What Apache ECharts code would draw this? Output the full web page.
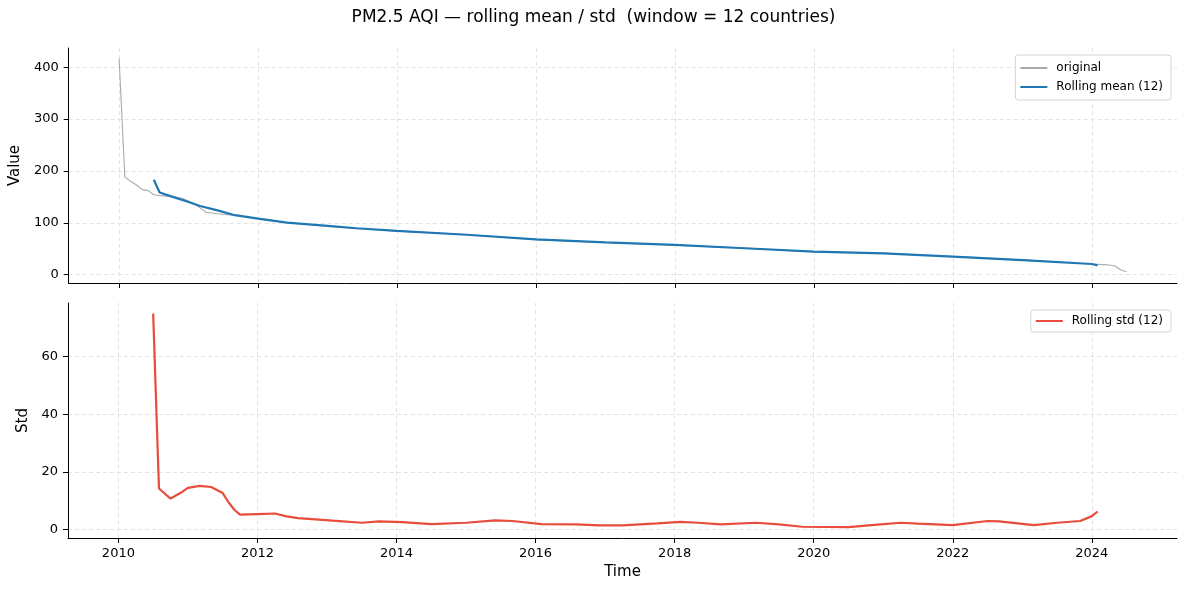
<!DOCTYPE html>
<html>
<head>
<meta charset="utf-8">
<script src="https://cdn.jsdelivr.net/npm/echarts@6/dist/echarts.min.js"></script>
<style>
  html, body { margin: 0; padding: 0; background: #fff; }
  #chart { width: 1187px; height: 591px; }
</style>
</head>
<body>
<div id="chart"></div>
<script>
// original series (month -> PM2.5 AQI)
const origMonths = [
  '2010-01', '2010-02', '2010-03', '2010-04', '2010-05', '2010-06', '2010-07',
  '2010-08', '2010-10', '2010-12', '2011-02', '2011-04', '2011-06', '2011-09',
  '2012-01', '2012-06', '2013-01', '2013-06', '2014-01', '2015-01', '2016-01',
  '2017-01', '2018-01', '2019-01', '2020-01', '2021-01', '2022-01', '2023-01',
  '2024-01', '2024-03', '2024-04', '2024-05', '2024-06', '2024-07'
]
const origValues = [
  417, 188, 180, 173, 164, 162, 154,
  152.5, 151, 147, 137, 120.5, 117.5, 114,
  108.5, 100, 93.5, 89, 84, 77.5, 67.5,
  62, 57, 51.5, 44, 41.5, 35, 28.5,
  20.5, 19.5, 18.7, 16.8, 9, 5.8
]

// rolling mean (12)
const meanMonths = [
  '2010-07', '2010-08', '2010-10', '2011-01', '2011-03', '2011-06', '2011-09',
  '2012-01', '2012-06', '2013-01', '2013-06', '2014-01', '2015-01', '2016-01',
  '2017-01', '2018-01', '2019-01', '2020-01', '2021-01', '2022-01', '2023-01',
  '2024-01', '2024-02'
]
const meanValues = [
  183, 158.5, 151, 140, 132.5, 124, 114.7,
  108, 100.5, 94, 89.5, 84.5, 77, 68,
  62.5, 57.4, 51, 44.5, 41, 34.8, 28,
  20.6, 18
]

// rolling std (12)
const stdMonths = [
  '2010-07', '2010-08', '2010-10', '2010-12', '2011-01', '2011-03', '2011-05',
  '2011-07', '2011-08', '2011-09', '2011-10', '2012-01', '2012-04', '2012-06',
  '2012-08', '2013-02', '2013-07', '2013-10', '2014-02', '2014-07', '2015-01',
  '2015-06', '2015-09', '2016-02', '2016-08', '2016-12', '2017-04', '2017-10',
  '2018-02', '2018-05', '2018-09', '2019-03', '2019-07', '2019-11', '2020-07',
  '2020-11', '2021-04', '2021-07', '2022-01', '2022-07', '2022-09', '2023-03',
  '2023-07', '2023-11', '2024-01', '2024-02'
]
const stdValues = [
  74.9, 14.2, 10.7, 13.0, 14.4, 15.1, 14.7,
  12.6, 9.4, 6.8, 5.1, 5.3, 5.5, 4.5,
  3.9, 3.0, 2.3, 2.8, 2.5, 1.8, 2.3,
  3.1, 2.9, 1.8, 1.7, 1.4, 1.4, 2.1,
  2.6, 2.3, 1.7, 2.3, 1.7, 0.9, 0.8,
  1.5, 2.3, 2.0, 1.5, 2.9, 2.8, 1.5,
  2.3, 2.9, 4.6, 6.2
]

const yearTicks = [2010, 2012, 2014, 2016, 2018, 2020, 2022, 2024]
const valueTicks = [0, 100, 200, 300, 400]
const stdTicks = [0, 20, 40, 60]

const FONT = 'DejaVu Sans'

// 'YYYY-MM' -> decimal year
const toYear = (s) => {
  const [y, m] = s.split('-').map(Number)
  return y + (m - 1) / 12
}
const pairs = (months, values) => months.map((m, i) => [toYear(m), values[i]])

const chart = echarts.init(document.getElementById('chart'))

const gridLine = { show: true, lineStyle: { color: '#e3e3e3', type: [4, 3], width: 1 } }
const axisLine = { show: true, onZero: false, lineStyle: { color: '#000', width: 1 } }
const tickStyle = { show: true, inside: false, length: 5, lineStyle: { color: '#000', width: 1 } }
const labelStyle = { color: '#000', fontSize: 13, fontFamily: FONT }
const legendBase = {
  orient: 'vertical',
  right: 16,
  itemWidth: 27,
  itemHeight: 12,
  borderColor: '#d4d4d4',
  borderWidth: 1,
  borderRadius: 3,
  backgroundColor: '#fff',
  itemStyle: { opacity: 0 },
  textStyle: { fontFamily: FONT, fontSize: 12, color: '#000', padding: [0, 0, 0, 4] }
}

const xAxisBase = (gridIndex, showLabels) => ({
  type: 'value',
  gridIndex,
  min: 2009.275,
  max: 2025.225,
  axisLine,
  axisTick: { ...tickStyle, customValues: yearTicks },
  axisLabel: {
    ...labelStyle,
    show: showLabels,
    margin: 9,
    customValues: yearTicks,
    formatter: (v) => String(Math.round(v))
  },
  splitLine: gridLine
})

const option = {
  animation: false,
  backgroundColor: '#fff',
  title: {
    text: 'PM2.5 AQI — rolling mean / std  (window = 12 countries)',
    left: 'center',
    top: 9,
    padding: 0,
    textStyle: { fontFamily: FONT, fontSize: 17, fontWeight: 'normal', color: '#000' }
  },
  grid: [
    { left: 68, right: 10, top: 48, height: 235 },
    { left: 68, right: 10, top: 303, height: 235 }
  ],
  legend: [
    {
      ...legendBase,
      data: ['original', 'Rolling mean (12)'],
      top: 55,
      padding: [7, 8, 7, 4],
      itemGap: 7
    },
    {
      ...legendBase,
      data: ['Rolling std (12)'],
      top: 310,
      padding: [5, 8, 5, 4]
    }
  ],
  xAxis: [
    xAxisBase(0, false),
    {
      ...xAxisBase(1, true),
      name: 'Time',
      nameLocation: 'middle',
      nameGap: 27,
      nameTextStyle: { fontFamily: FONT, fontSize: 15, color: '#000' }
    }
  ],
  yAxis: [
    {
      type: 'value',
      gridIndex: 0,
      min: -16,
      max: 437,
      name: 'Value',
      nameLocation: 'middle',
      nameGap: 43,
      nameTextStyle: { fontFamily: FONT, fontSize: 15, color: '#000' },
      axisLine,
      axisTick: { ...tickStyle, customValues: valueTicks },
      axisLabel: { ...labelStyle, margin: 10, customValues: valueTicks },
      splitLine: gridLine
    },
    {
      type: 'value',
      gridIndex: 1,
      min: -3,
      max: 78.6,
      name: 'Std',
      nameLocation: 'middle',
      nameGap: 34,
      nameTextStyle: { fontFamily: FONT, fontSize: 15, color: '#000' },
      axisLine,
      axisTick: { ...tickStyle, customValues: stdTicks },
      axisLabel: { ...labelStyle, margin: 10, customValues: stdTicks },
      splitLine: gridLine
    }
  ],
  series: [
    {
      name: 'original',
      type: 'line',
      xAxisIndex: 0,
      yAxisIndex: 0,
      data: pairs(origMonths, origValues),
      symbol: 'none',
      lineStyle: { color: '#aaaaaa', width: 1.1 },
      itemStyle: { color: '#aaaaaa' }
    },
    {
      name: 'Rolling mean (12)',
      type: 'line',
      xAxisIndex: 0,
      yAxisIndex: 0,
      data: pairs(meanMonths, meanValues),
      symbol: 'none',
      lineStyle: { color: '#1f77b4', width: 2.2 },
      itemStyle: { color: '#1f77b4' }
    },
    {
      name: 'Rolling std (12)',
      type: 'line',
      xAxisIndex: 1,
      yAxisIndex: 1,
      data: pairs(stdMonths, stdValues),
      symbol: 'none',
      lineStyle: { color: '#e74c3c', width: 2.2 },
      itemStyle: { color: '#e74c3c' }
    }
  ]
}

chart.setOption(option)
window.addEventListener('resize', () => chart.resize())
</script>
</body>
</html>
